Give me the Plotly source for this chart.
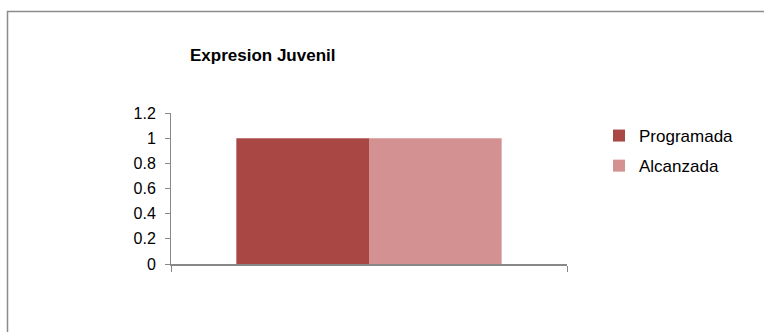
import plotly.graph_objects as go

categories = ["Expresion Juvenil"]
series_names = ["Programada", "Alcanzada"]
programada = [1]
alcanzada = [1]
colors = ["#A94745", "#D39291"]
y_ticks = [0, 0.2, 0.4, 0.6, 0.8, 1, 1.2]
y_ticktext = ["0", "0.2", "0.4", "0.6", "0.8", "1", "1.2"]

W, H = 764, 332
L, R, T, B = 171, 197, 113, 68
pw, ph = W - L - R, H - T - B

def px_x(x):
    return (x - L) / pw

def px_y(y):
    return (H - B - y) / ph

fig = go.Figure()
for name, vals, col, grp in zip(series_names, [programada, alcanzada], colors, ["a", "b"]):
    fig.add_trace(go.Bar(x=categories, y=vals, name=name, marker_color=col,
                         marker_line_width=0, legendgroup=grp))

font = "Liberation Sans, Arial, sans-serif"
fig.update_layout(
    width=W, height=H,
    margin=dict(l=L, r=R, t=T, b=B, pad=0),
    paper_bgcolor="white", plot_bgcolor="white",
    barmode="group", bargap=0.33, bargroupgap=0,
    font=dict(family=font, size=15, color="#000000"),
    title=dict(text="<b>Expresion Juvenil</b>", xref="container", yref="container",
               x=190 / W, xanchor="left", y=1 - 55 / H, yanchor="middle",
               font=dict(family=font, size=17, color="#000000")),
    legend=dict(x=px_x(599), xanchor="left", y=px_y(118), yanchor="top",
                traceorder="grouped", tracegroupgap=5,
                font=dict(family=font, size=17, color="#000000"),
                bgcolor="rgba(0,0,0,0)", borderwidth=0),
    showlegend=True,
    xaxis=dict(showticklabels=False, showline=True, linecolor="#888888", linewidth=2,
               ticks="outside", tickson="boundaries", ticklen=6, tickcolor="#888888",
               tickwidth=1, showgrid=False, zeroline=False, fixedrange=True),
    yaxis=dict(range=[0, 1.2], tickvals=y_ticks, ticktext=y_ticktext,
               showline=True, linecolor="#888888", linewidth=1,
               ticks="outside", ticklen=5, tickcolor="#888888", tickwidth=1,
               ticklabelstandoff=6, tickfont=dict(size=16),
               showgrid=False, zeroline=False, fixedrange=True),
    shapes=[dict(type="rect", xref="paper", yref="paper",
                 x0=px_x(7.5), x1=px_x(780), y0=px_y(345), y1=px_y(11.5),
                 line=dict(color="#8c8c8c", width=1.5), fillcolor="rgba(0,0,0,0)",
                 layer="below")],
)

fig.write_html("out.html", config={"displayModeBar": False},
               post_script="document.body.style.margin='0';")
